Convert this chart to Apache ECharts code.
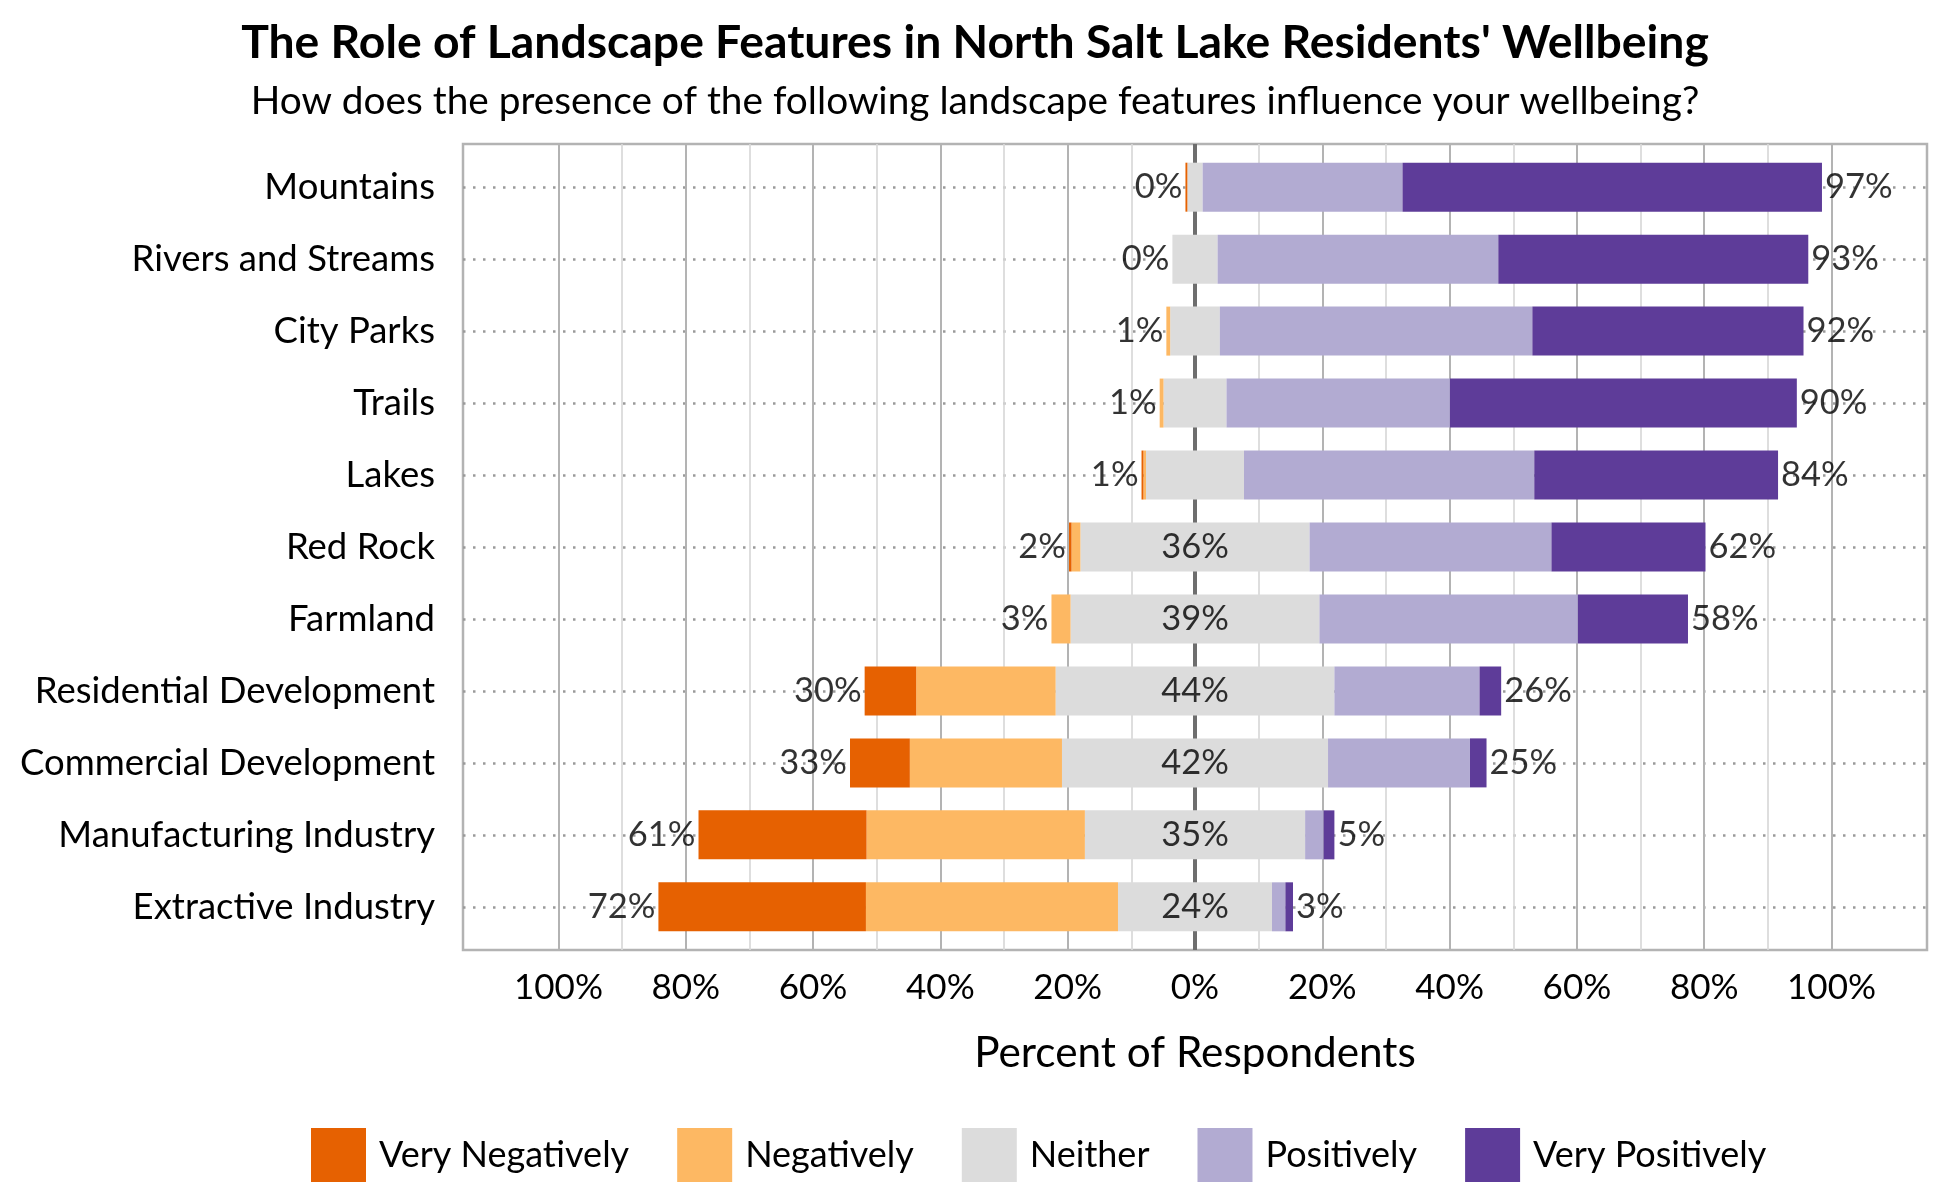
<!DOCTYPE html>
<html>
<head>
<meta charset="utf-8">
<script src="https://cdn.jsdelivr.net/npm/echarts@6/dist/echarts.min.js"></script>
<style>
  html, body { margin: 0; padding: 0; background: #ffffff; }
  #chart { width: 1950px; height: 1200px; }
</style>
</head>
<body>
<div id="chart"></div>
<script>
// ---- Data (percent of respondents) ----
const categories = ['Mountains', 'Rivers and Streams', 'City Parks', 'Trails', 'Lakes', 'Red Rock', 'Farmland',
  'Residential Development', 'Commercial Development', 'Manufacturing Industry', 'Extractive Industry'];
const veryNegatively = [0.3, 0, 0, 0, 0.3, 0.4, 0, 8.1, 9.4, 26.4, 32.6];
const negatively     = [0, 0, 0.6, 0.6, 0.4, 1.4, 3.0, 21.9, 23.9, 34.3, 39.6];
const neither        = [2.4, 7.1, 7.8, 9.9, 15.4, 36.0, 39.1, 43.8, 41.8, 34.6, 24.2];
const positively     = [31.4, 44.1, 49.1, 35.1, 45.6, 38.0, 40.6, 22.8, 22.3, 2.9, 2.1];
const veryPositively = [65.9, 48.7, 42.6, 54.5, 38.3, 24.2, 17.3, 3.4, 2.6, 1.7, 1.2];
const legendNames = ['Very Negatively', 'Negatively', 'Neither', 'Positively', 'Very Positively'];
const tickStep = 5, axisMin = -115, axisMax = 115;

// ---- Derived ----
const colors = { vneg: '#e66101', neg: '#fdb863', mid: '#dcdcdc', pos: '#b2abd2', vpos: '#5e3c99' };
const negTotal = categories.map((c, i) => veryNegatively[i] + negatively[i]);
const posTotal = categories.map((c, i) => positively[i] + veryPositively[i]);
const leftEnd = categories.map((c, i) => -(negTotal[i] + neither[i] / 2));
const rightEnd = categories.map((c, i) => posTotal[i] + neither[i] / 2);
const ticks = [];
for (let v = axisMin; v <= axisMax; v += tickStep) ticks.push(v);
const isMajor = v => v % 20 === 0 && Math.abs(v) <= 100;
const isMinor = v => v % 20 !== 0 && v % 10 === 0 && Math.abs(v) <= 100;
const clear = 'rgba(0,0,0,0)';
const majorColors = ticks.map(v => isMajor(v) ? '#b3b3b3' : clear);
const minorColors = ticks.map(v => isMinor(v) ? '#d9d9d9' : clear);
// row guide axis: rows at 0,10,20,... with 0.6-row padding on each side (units of 1/10 row)
const rowMin = -6, rowMax = (categories.length - 1) * 10 + 6, rowStep = 2;
const rowTicks = [];
for (let v = rowMin; v <= rowMax; v += rowStep) rowTicks.push(v);
const rowColors = rowTicks.map(v => v % 10 === 0 ? '#9a9a9a' : clear);

const FONT = 'Lato';
const chart = echarts.init(document.getElementById('chart'), null, { renderer: 'canvas' });

const barBase = { type: 'bar', stack: 'likert', xAxisIndex: 3, yAxisIndex: 1, barWidth: 49, silent: true };

const option = {
  backgroundColor: '#ffffff',
  animation: false,
  textStyle: { fontFamily: FONT, color: '#000' },
  title: [
    { text: "The Role of Landscape Features in North Salt Lake Residents' Wellbeing", left: 970, textAlign: 'center', top: 15,
      textStyle: { fontFamily: FONT, fontWeight: 'bold', fontSize: 46.3, color: '#000' } },
    { text: 'How does the presence of the following landscape features influence your wellbeing?', left: 970, textAlign: 'center', top: 77,
      textStyle: { fontFamily: FONT, fontWeight: 'normal', fontSize: 38.8, color: '#000' } }
  ],
  legend: {
    data: legendNames, left: 311, top: 1128, padding: 0, itemWidth: 55, itemHeight: 54, itemGap: 48, icon: 'rect',
    textStyle: { fontFamily: FONT, fontSize: 36, color: '#000', padding: [0, 0, 0, 8] }, selectedMode: false
  },
  grid: [
    { left: 463, right: 23, top: 144, bottom: 250, show: true, borderColor: '#b3b3b3', borderWidth: 2.5, backgroundColor: 'transparent' },
    { left: 463, right: 23, top: 151.2, bottom: 257.2 }
  ],
  xAxis: [
    { type: 'value', gridIndex: 0, min: axisMin, max: axisMax, interval: tickStep,
      axisLine: { show: false }, axisTick: { show: false },
      axisLabel: { fontFamily: FONT, fontSize: 35, color: '#000', margin: 20,
        formatter: v => isMajor(v) ? Math.abs(v) + '%' : '' },
      splitLine: { show: true, lineStyle: { color: majorColors, width: 2 } },
      name: 'Percent of Respondents', nameLocation: 'middle', nameGap: 82,
      nameTextStyle: { fontFamily: FONT, fontSize: 42.3, color: '#000' } },
    { type: 'value', gridIndex: 0, min: axisMin, max: axisMax, interval: tickStep,
      axisLine: { show: false }, axisTick: { show: false }, axisLabel: { show: false },
      splitLine: { show: true, lineStyle: { color: minorColors, width: 1.7 } } },
    { type: 'value', gridIndex: 0, min: axisMin, max: axisMax, interval: axisMax,
      axisLine: { show: false }, axisTick: { show: false }, axisLabel: { show: false },
      splitLine: { show: true, lineStyle: { color: [clear, '#6e6e6e', clear], width: 4 } } },
    { type: 'value', gridIndex: 1, min: axisMin, max: axisMax, show: false }
  ],
  yAxis: [
    { type: 'value', gridIndex: 0, min: rowMin, max: rowMax, interval: rowStep, inverse: true,
      axisLine: { show: false }, axisTick: { show: false }, axisLabel: { show: false },
      splitLine: { show: true, lineStyle: { color: rowColors, width: 2.5, type: [2.5, 7.5] } } },
    { type: 'category', gridIndex: 1, data: categories, inverse: true,
      axisLine: { show: false }, axisTick: { show: false },
      axisLabel: { fontFamily: FONT, fontSize: 36.5, color: '#000', margin: 28 },
      splitLine: { show: false } }
  ],
  series: [
    Object.assign({}, barBase, { name: 'Neither', itemStyle: { color: colors.mid }, data: neither.map(v => -v / 2) }),
    Object.assign({}, barBase, { name: 'Negatively', itemStyle: { color: colors.neg }, data: negatively.map(v => -v) }),
    Object.assign({}, barBase, { name: 'Very Negatively', itemStyle: { color: colors.vneg }, data: veryNegatively.map(v => -v) }),
    Object.assign({}, barBase, { name: 'Neither', itemStyle: { color: colors.mid }, data: neither.map(v => v / 2) }),
    Object.assign({}, barBase, { name: 'Positively', itemStyle: { color: colors.pos }, data: positively }),
    Object.assign({}, barBase, { name: 'Very Positively', itemStyle: { color: colors.vpos }, data: veryPositively }),
    { type: 'scatter', name: 'negLabels', xAxisIndex: 3, yAxisIndex: 1, symbolSize: 0, silent: true, z: 5,
      data: leftEnd.map((x, i) => [x, i]),
      label: { show: true, position: 'left', distance: 3, fontFamily: FONT, fontSize: 34.5, color: '#000',
        formatter: p => Math.round(negTotal[p.dataIndex]) + '%' } },
    { type: 'scatter', name: 'posLabels', xAxisIndex: 3, yAxisIndex: 1, symbolSize: 0, silent: true, z: 5,
      data: rightEnd.map((x, i) => [x, i]),
      label: { show: true, position: 'right', distance: 3, fontFamily: FONT, fontSize: 34.5, color: '#000',
        formatter: p => Math.round(posTotal[p.dataIndex]) + '%' } },
    { type: 'scatter', name: 'midLabels', xAxisIndex: 3, yAxisIndex: 1, symbolSize: 0, silent: true, z: 5,
      data: neither.map((v, i) => v >= 20 ? [0, i, v] : null).filter(d => d),
      label: { show: true, position: 'inside', fontFamily: FONT, fontSize: 34.5, color: '#000',
        formatter: p => Math.round(p.value[2]) + '%' } }
  ]
};
chart.setOption(option);
</script>
</body>
</html>
